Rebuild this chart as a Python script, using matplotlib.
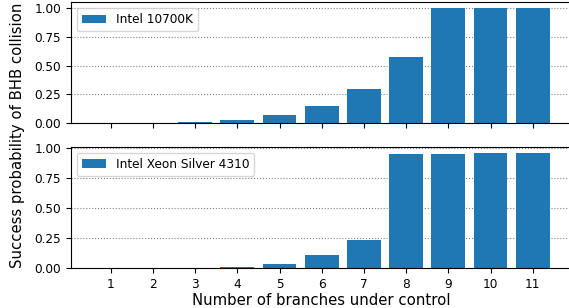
import matplotlib
matplotlib.use("Agg")
import matplotlib.pyplot as plt

# number of branches under control
branches = [1, 2, 3, 4, 5, 6, 7, 8, 9, 10, 11]

# success probability of BHB collision
prob_10700k = [0.0, 0.0, 0.008, 0.028, 0.068, 0.146, 0.295, 0.575, 1.0, 1.0, 1.0]
prob_xeon_4310 = [0.0, 0.0, 0.002, 0.008, 0.034, 0.109, 0.237, 0.955, 0.955, 0.963, 0.963]

labels = ["Intel 10700K", "Intel Xeon Silver 4310"]
y_ticks = [0.0, 0.25, 0.5, 0.75, 1.0]

BAR_COLOR = "#1f77b4"
TICK_SIZE = 8.7
LABEL_SIZE = 10.7

fig = plt.figure(figsize=(5.69, 3.08), dpi=100)
ax_top = fig.add_axes([0.1248, 0.6006, 0.8812, 0.3915])
ax_bot = fig.add_axes([0.1248, 0.1299, 0.8812, 0.3929], sharex=ax_top)

for ax, values, label in [(ax_top, prob_10700k, labels[0]),
                          (ax_bot, prob_xeon_4310, labels[1])]:
    ax.bar(branches, values, width=0.8, color=BAR_COLOR, label=label, zorder=2)
    ax.set_yticks(y_ticks)
    ax.yaxis.set_major_formatter(plt.FormatStrFormatter("%.2f"))
    ax.grid(axis="y", linestyle=":", color="gray", linewidth=0.8, zorder=0)
    ax.set_axisbelow(True)
    ax.tick_params(labelsize=TICK_SIZE)
    ax.legend(loc="upper left", fontsize=TICK_SIZE)

ax_bot.set_xticks(branches)
ax_top.tick_params(labelbottom=False)
ax_bot.set_xlabel("Number of branches under control", fontsize=LABEL_SIZE, labelpad=2)

fig.text(0.03, 0.561, "Success probability of BHB collision",
         rotation=90, ha="center", va="center", fontsize=LABEL_SIZE)

plt.savefig("out.png", dpi=100)
